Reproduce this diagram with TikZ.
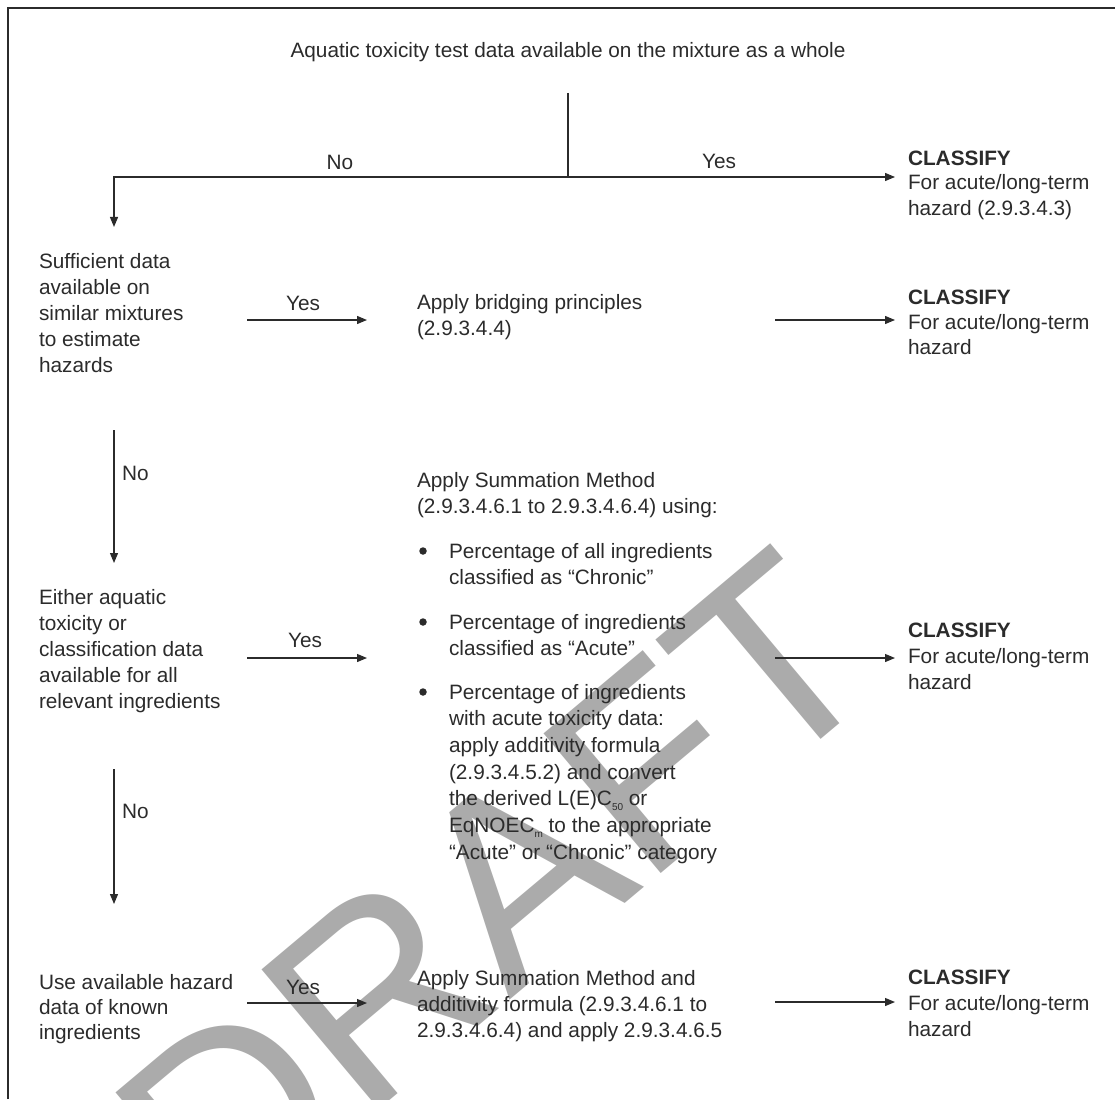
\documentclass[tikz,border=0pt]{standalone}
\usepackage{fontspec}
\setmainfont{Liberation Sans}
\usetikzlibrary{arrows.meta}
\definecolor{ink}{HTML}{2B2B2B}
\definecolor{wm}{HTML}{ABABAB}
\newcommand{\lowsub}[1]{\raisebox{-0.45ex}{\fontsize{10}{10}\selectfont #1}}
\begin{document}
\begin{tikzpicture}[x=1pt,y=-1pt,
 txt/.style={inner sep=0pt, outer sep=0pt, text=ink, font=\fontsize{20.8}{26}\selectfont, align=left, anchor=base west},
 txtc/.style={txt, font=\fontsize{20.8}{25}\selectfont},
 txtb/.style={txt, font=\fontsize{20.8}{26.7}\selectfont},
 lbl/.style={inner sep=0pt, outer sep=0pt, text=ink, font=\fontsize{20.8}{26}\selectfont, anchor=base},
 lblw/.style={lbl, anchor=base west},
 dotb/.style={circle, fill=ink, inner sep=0pt, minimum size=7.5pt},
 arr/.style={draw=ink, line width=1.2pt, -{Triangle[length=10pt,width=8pt]}},
 ln/.style={draw=ink, line width=1.2pt},
 wmstyle/.style={rotate=40, text=wm, inner sep=0pt, anchor=base west, font=\fontsize{265}{265}\selectfont}
]
\useasboundingbox (0,0) rectangle (1115,1099);
% watermark
\node[wmstyle] (wmark) at (216,1247) {DRAFT};
% frame
\draw[ln, line width=1.5pt] (8,1099) -- (8,8) -- (1115,8);

% row 1
\node[lbl] (top) at (568,58) {Aquatic toxicity test data available on the mixture as a whole};
\coordinate (jtop) at (568,93);
\coordinate (j) at (568,177);
\coordinate (corner) at (114,177);
\coordinate (d1) at (114,227);
\coordinate (c1in) at (895,177);
\draw[ln] (jtop) -- (j);
\draw[arr] (j) -- (corner) -- (d1);
\draw[arr] (j) -- (c1in);
\node[lbl] (no1) at (340,170) {No};
\node[lbl] (yes1) at (719,169) {Yes};
\node[txtc] (cl1) at (908,215) {\textbf{CLASSIFY}\\For acute/long-term\\hazard (2.9.3.4.3)};

% row 2
\node[txt] (q2) at (39,372) {Sufficient data\\available on\\similar mixtures\\to estimate\\hazards};
\node[lbl] (yes2) at (303,310) {Yes};
\coordinate (a2s) at (247,320);
\coordinate (a2e) at (367,320);
\draw[arr] (a2s) -- (a2e);
\node[txt] (br) at (417,335) {Apply bridging principles\\(2.9.3.4.4)};
\coordinate (b2s) at (775,320);
\coordinate (b2e) at (895,320);
\draw[arr] (b2s) -- (b2e);
\node[txtc] (cl2) at (908,354) {\textbf{CLASSIFY}\\For acute/long-term\\hazard};

% down arrow 1
\coordinate (v1s) at (114,430);
\coordinate (v1e) at (114,563);
\draw[arr] (v1s) -- (v1e);
\node[lblw] (no2) at (122,480) {No};

% row 3
\node[txt] (q3) at (39,708) {Either aquatic\\toxicity or\\classification data\\available for all\\relevant ingredients};
\node[lbl] (yes3) at (305,647) {Yes};
\coordinate (a3s) at (247,658);
\coordinate (a3e) at (367,658);
\draw[arr] (a3s) -- (a3e);
\node[txt] (sm) at (417,513) {Apply Summation Method\\(2.9.3.4.6.1 to 2.9.3.4.6.4) using:};
\node[dotb] (dot1) at (423,551) {};
\node[txtb] (bl1) at (449,584.7) {Percentage of all ingredients\\classified as “Chronic”};
\node[dotb] (dot2) at (423,622) {};
\node[txtb] (bl2) at (449,655.7) {Percentage of ingredients\\classified as “Acute”};
\node[dotb] (dot3) at (423,692) {};
\node[txtb] (bl3) at (449,859.2) {Percentage of ingredients\\with acute toxicity data:\\apply additivity formula\\(2.9.3.4.5.2) and convert\\the derived L(E)C\lowsub{50} or\\EqNOEC\lowsub{m} to the appropriate\\“Acute” or “Chronic” category};
\coordinate (b3s) at (775,658);
\coordinate (b3e) at (895,658);
\draw[arr] (b3s) -- (b3e);
\node[txt] (cl3) at (908,689) {\textbf{CLASSIFY}\\For acute/long-term\\hazard};

% down arrow 2
\coordinate (v2s) at (114,769);
\coordinate (v2e) at (114,904);
\draw[arr] (v2s) -- (v2e);
\node[lblw] (no3) at (122,818) {No};

% row 4
\node[txtc] (q4) at (39,1039) {Use available hazard\\data of known\\ingredients};
\node[lbl] (yes4) at (303,994) {Yes};
\coordinate (a4s) at (247,1003);
\coordinate (a4e) at (367,1003);
\draw[arr] (a4s) -- (a4e);
\node[txt] (sm2) at (417,1037) {Apply Summation Method and\\additivity formula (2.9.3.4.6.1 to\\2.9.3.4.6.4) and apply 2.9.3.4.6.5};
\coordinate (b4s) at (775,1002);
\coordinate (b4e) at (895,1002);
\draw[arr] (b4s) -- (b4e);
\node[txt] (cl4) at (908,1036) {\textbf{CLASSIFY}\\For acute/long-term\\hazard};
\end{tikzpicture}
\end{document}
